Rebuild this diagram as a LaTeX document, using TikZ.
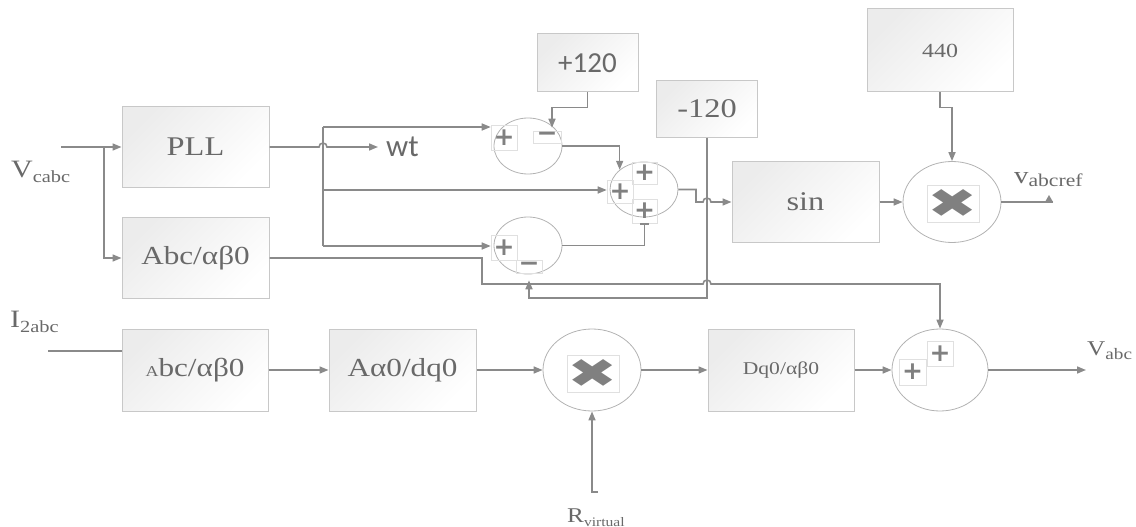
\documentclass[tikz,border=0pt]{standalone}
\usepackage{fontspec}
\setmainfont{Liberation Serif}[FakeStretch=1.2]
\newfontfamily\calib{Carlito}
\newfontfamily\dvs{DejaVu Sans}
\usepackage{graphicx}
\usetikzlibrary{arrows.meta,shapes.geometric}
\definecolor{ln}{RGB}{138,138,138}
\definecolor{bd}{RGB}{200,200,200}
\definecolor{tx}{RGB}{105,105,105}
\definecolor{fl}{RGB}{236,236,236}
\definecolor{sg}{RGB}{128,128,128}
\newcommand\myfs[1]{\fontsize{#1}{#1}\selectfont}
\begin{document}
\begin{tikzpicture}[x=1pt,y=-1pt,
  blk/.style={draw=bd, line width=1pt, top color=fl, bottom color=white, shading angle=45, text=tx, inner sep=0pt},
  line/.style={draw=ln, line width=1.6pt},
  arr/.style={line, -{Triangle[length=9pt,width=7pt]}},
  sumc/.style={ellipse, draw=bd!70!gray, line width=0.8pt, inner sep=0pt},
  sgn/.style={draw=black!12, line width=0.6pt, inner sep=0pt, text=sg, font=\dvs\bfseries\myfs{25}},
  lab/.style={anchor=base west, inner sep=0pt, text=tx}]
\useasboundingbox (0,0) rectangle (1136,527);

% blocks
\node[blk, minimum width=147pt, minimum height=80pt, font=\myfs{27}] (pll) at (195.5,147) {PLL};
\node[blk, minimum width=147pt, minimum height=81pt, font=\myfs{26}] (abc1) at (195.5,258) {Abc/αβ0};
\node[blk, minimum width=146pt, minimum height=82pt, font=\myfs{26}] (abc2) at (195,370) {{\myfs{15}A}bc/αβ0};
\node[blk, minimum width=147pt, minimum height=82pt, font=\myfs{26}] (adq) at (402.5,370) {Aα0/dq0};
\node[blk, minimum width=146pt, minimum height=82pt, font=\myfs{18}] (dqab) at (781,370) {Dq0/αβ0};
\node[blk, minimum width=147pt, minimum height=81pt, font=\myfs{27}] (sinb) at (805.5,202) {sin};
\node[blk, minimum width=101pt, minimum height=58pt, font=\calib\myfs{29}] (p120) at (587.5,63) {+120};
\node[blk, minimum width=101pt, minimum height=56pt, font=\myfs{27}] (m120) at (707,109) {-120};
\node[blk, minimum width=146pt, minimum height=83pt, font=\myfs{20}] (k440) at (940,50.5) {440};

% summing / multiplying junctions
\node[sumc, minimum width=68pt, minimum height=56pt] (sum1) at (528,146) {};
\node[sumc, minimum width=68pt, minimum height=55pt] (sum2) at (644,189.5) {};
\node[sumc, minimum width=68pt, minimum height=57pt] (sum3) at (528,245.5) {};
\node[sumc, minimum width=98pt, minimum height=82pt] (mul1) at (592,370) {};
\node[sumc, minimum width=98pt, minimum height=81pt] (mul2) at (952,202) {};
\node[sumc, minimum width=96pt, minimum height=82pt] (sum4) at (940,370) {};

% sign boxes
\node[sgn, minimum width=26pt, minimum height=25pt] (s1p) at (504,137.5) {+};
\node[sgn, minimum width=28pt, minimum height=12pt] (s1m) at (547,137) {−};
\node[sgn, minimum width=26pt, minimum height=23pt] (s2a) at (620,191.5) {+};
\node[sgn, minimum width=25pt, minimum height=22pt] (s2b) at (644.5,173) {+};
\node[sgn, minimum width=25pt, minimum height=24pt] (s2c) at (644.5,211) {+};
\node[sgn, minimum width=26pt, minimum height=25pt] (s3p) at (504,247.5) {+};
\node[sgn, minimum width=26pt, minimum height=13pt] (s3m) at (529,266.5) {−};
\node[sgn, minimum width=27pt, minimum height=26pt] (s4a) at (912.5,372) {+};
\node[sgn, minimum width=26pt, minimum height=25pt] (s4b) at (940,353.5) {+};
\node[sgn, minimum width=52pt, minimum height=37pt, font=\dvs\myfs{40}] (x1) at (593,373.5) {\scalebox{1.5}[1]{✖}};
\node[sgn, minimum width=52pt, minimum height=37pt, font=\dvs\myfs{40}] (x2) at (953,203.5) {\scalebox{1.5}[1]{✖}};

% labels
\node[lab, font=\myfs{25}] (lv) at (11,177) {V\raisebox{-5pt}{\myfs{17}cabc}};
\node[lab, font=\myfs{25}] (li) at (10,327) {I\raisebox{-5pt}{\myfs{17}2abc}};
\node[lab, font=\myfs{24}] (lref) at (1014,183) {v\raisebox{-3pt}{\myfs{18}abcref}};
\node[lab, font=\myfs{21}] (lout) at (1087,355) {V\raisebox{-4pt}{\myfs{16}abc}};
\node[lab, font=\myfs{21}] (lr) at (567,522) {R\raisebox{-4pt}{\myfs{13}virtual}};
\node[anchor=west, inner sep=0pt, text=tx, font=\calib\myfs{31}] (wt) at (386,147) {wt};

% coordinates of free ends
\coordinate (vin) at (61,147);
\coordinate (br) at (104,147);
\coordinate (b1) at (323,127);
\coordinate (b2) at (323,190);
\coordinate (b3) at (323,246);
\coordinate (i2) at (48,351);
\coordinate (vref) at (1053,202);
\coordinate (vout) at (1086,370);
\coordinate (rv) at (592,492);

% connectors
\draw[arr] (vin) -- (pll.west);
\draw[arr] (br) |- (abc1.west);
\draw[arr] (pll.east) -- (319,147) arc[start angle=180,end angle=0,radius=4pt] -- ([xshift=-8pt]wt.west);
\draw[line] (b1) -- (b3);
\draw[arr] (b1) -- (s1p.west |- b1);
\draw[arr] (b2) -- (s2a.west |- b2);
\draw[arr] (b3) -- (s3p.west |- b3);
\draw[arr] (p120.south) -- ++(0,15) -| ([xshift=5pt,yshift=3pt]s1m.north);
\draw[arr] (sum1.east) -| (sum2.141);
\draw[line,-{Bar[width=9pt]}] (sum3.east) -| (s2c.south);
\draw[arr] (sum2.east) -- (696,189.5) -- (696,202) -- (703,202) arc[start angle=180,end angle=0,radius=4pt] -- (sinb.west);
\draw[arr] (m120.south) -- (707,298) -| ([yshift=-7pt]s3m.south);
\draw[arr] (abc1.east) -- (482,258) -- (482,284) -- (703,284) arc[start angle=180,end angle=0,radius=4pt] -| (sum4.north);
\draw[arr] (sinb.east) -- (mul2.west);
\draw[arr] (k440.south) -- ++(0,15) -| (mul2.north);
\draw[line] (mul2.east) -- (vref);
\fill[ln] ([xshift=-8pt]vref) -- (vref) -- ([xshift=-4pt,yshift=7pt]vref) -- cycle;
\draw[line] (i2) -- (abc2.west |- i2);
\draw[arr] (abc2.east) -- (adq.west);
\draw[arr] (adq.east) -- (mul1.west);
\draw[arr] (mul1.east) -- (dqab.west);
\draw[arr] (dqab.east) -- (sum4.west);
\draw[arr] (sum4.east) -- (vout);
\draw[arr] ([xshift=6pt]rv) -- (rv) -- (mul1.south);
\end{tikzpicture}
\end{document}
